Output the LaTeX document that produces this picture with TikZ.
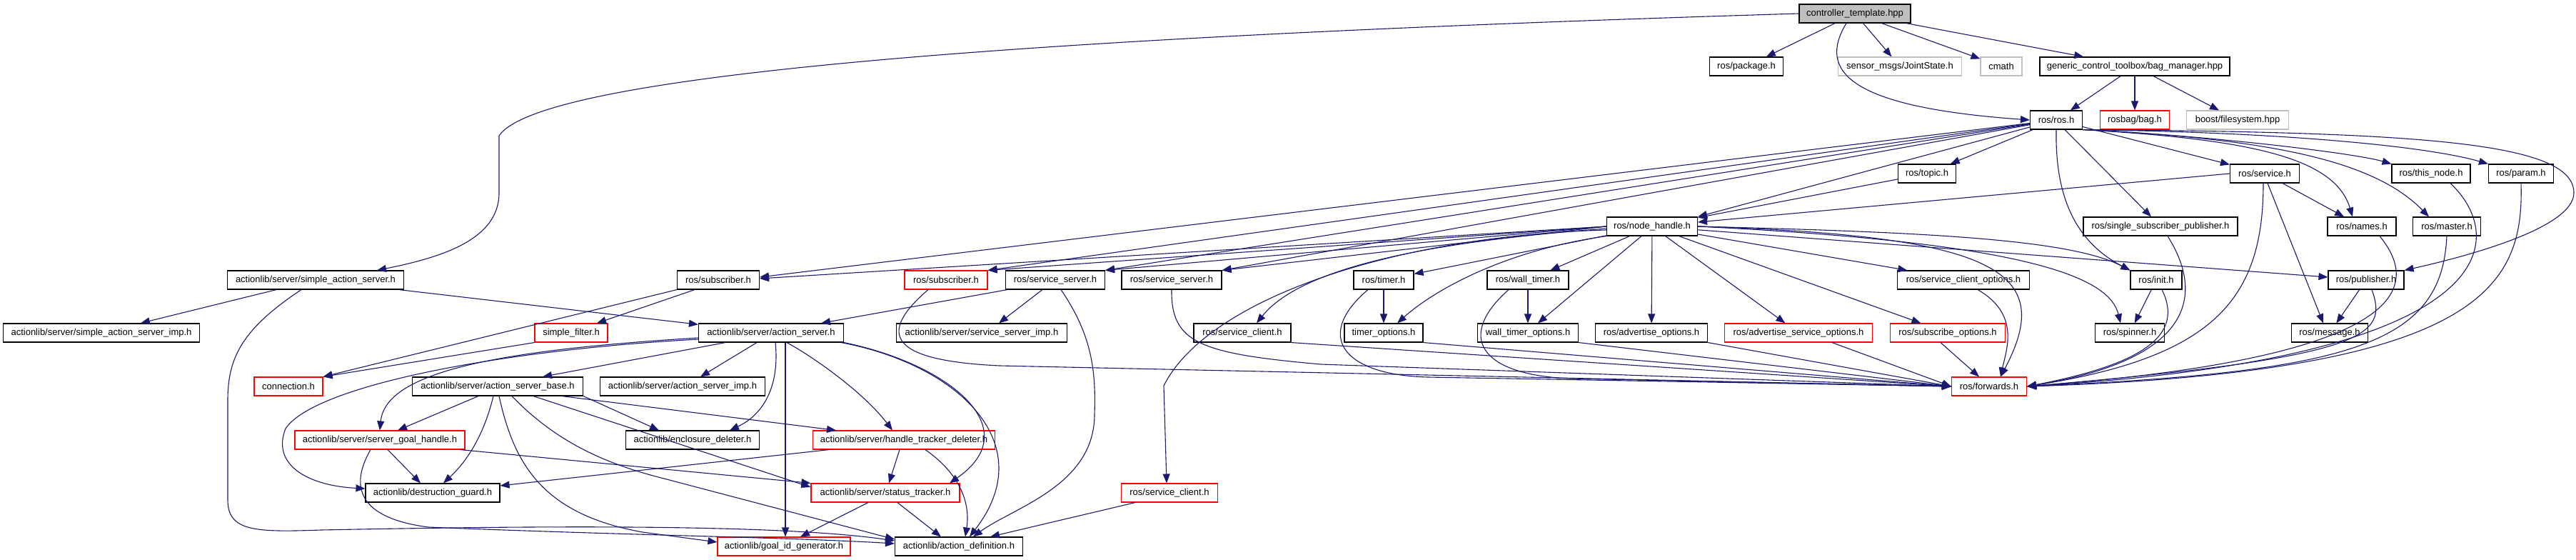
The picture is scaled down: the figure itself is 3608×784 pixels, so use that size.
\documentclass[tikz,border=0pt]{standalone}
\usepackage{fontspec}
\setmainfont{Liberation Sans}
\usetikzlibrary{arrows.meta}
\definecolor{edgec}{HTML}{191970}
\definecolor{grayb}{HTML}{BFBFBF}
\begin{document}
\begin{tikzpicture}[x=1pt,y=-1pt,
  box/.style={draw=black, line width=1.1pt, fill=white, minimum height=26pt, inner sep=0pt, font=\fontsize{13}{15}\selectfont},
  redbox/.style={box, draw=red},
  graybox/.style={box, draw=grayb},
  rootbox/.style={box, fill=grayb},
  lnk/.style={draw=edgec, line width=1.1pt, -{Triangle[length=13pt,width=10pt]}}]
\useasboundingbox (0,0) rectangle (3608,784);
% row 0
\node[rootbox, minimum width=156] (ct) at (2598,19) {controller\_template.hpp};
% row 1
\node[box, minimum width=103] (pkg) at (2446,93) {ros/package.h};
\node[graybox, minimum width=173] (js) at (2661,93) {sensor\_msgs/JointState.h};
\node[graybox, minimum width=58] (cmath) at (2803,93) {cmath};
\node[box, minimum width=266] (bag) at (2990,93) {generic\_control\_toolbox/bag\_manager.hpp};
% row 2
\node[box, minimum width=73] (ros) at (2880,168) {ros/ros.h};
\node[redbox, minimum width=97] (rbag) at (2990,168) {rosbag/bag.h};
\node[graybox, minimum width=143] (bfs) at (3134,168) {boost/filesystem.hpp};
% row 3
\node[box, minimum width=81] (topic) at (2699,243) {ros/topic.h};
\node[box, minimum width=97] (service) at (3172,243) {ros/service.h};
\node[box, minimum width=110] (thisnode) at (3405,243) {ros/this\_node.h};
\node[box, minimum width=91] (param) at (3531,243) {ros/param.h};
% row 4
\node[box, minimum width=127] (nh) at (2314,317) {ros/node\_handle.h};
\node[box, minimum width=216] (ssp) at (3026,317) {ros/single\_subscriber\_publisher.h};
\node[box, minimum width=96] (names) at (3308,317) {ros/names.h};
\node[box, minimum width=95] (master) at (3427,317) {ros/master.h};
% row 5
\node[box, minimum width=247] (sasrv) at (442,392) {actionlib/server/simple\_action\_server.h};
\node[box, minimum width=115] (sub1) at (1006,392) {ros/subscriber.h};
\node[redbox, minimum width=116] (sub2) at (1325,392) {ros/subscriber.h};
\node[box, minimum width=139] (ss1) at (1478,392) {ros/service\_server.h};
\node[box, minimum width=140] (ss2) at (1641,392) {ros/service\_server.h};
\node[box, minimum width=84] (timer) at (1938,392) {ros/timer.h};
\node[box, minimum width=114] (wtimer) at (2140,392) {ros/wall\_timer.h};
\node[box, minimum width=185] (sco) at (2750,392) {ros/service\_client\_options.h};
\node[box, minimum width=72] (init) at (3020,392) {ros/init.h};
\node[box, minimum width=106] (pub) at (3314,392) {ros/publisher.h};
% row 6
\node[box, minimum width=275] (sasimp) at (142,466) {actionlib/server/simple\_action\_server\_imp.h};
\node[redbox, minimum width=102] (sf) at (800,466) {simple\_filter.h};
\node[box, minimum width=203] (as) at (1080,466) {actionlib/server/action\_server.h};
\node[box, minimum width=239] (ssimp) at (1375,466) {actionlib/server/service\_server\_imp.h};
\node[box, minimum width=136] (sc1) at (1740,466) {ros/service\_client.h};
\node[box, minimum width=110] (tops) at (1938,466) {timer\_options.h};
\node[box, minimum width=141] (wtops) at (2140,466) {wall\_timer\_options.h};
\node[box, minimum width=157] (ao) at (2313,466) {ros/advertise\_options.h};
\node[redbox, minimum width=207] (aso) at (2519,466) {ros/advertise\_service\_options.h};
\node[redbox, minimum width=161] (so) at (2728,466) {ros/subscribe\_options.h};
\node[box, minimum width=97] (spin) at (2983,466) {ros/spinner.h};
\node[box, minimum width=107] (msg) at (3263,466) {ros/message.h};
% row 7
\node[redbox, minimum width=96] (conn) at (404,541) {connection.h};
\node[box, minimum width=239] (asb) at (697,541) {actionlib/server/action\_server\_base.h};
\node[box, minimum width=231] (asimp) at (956,541) {actionlib/server/action\_server\_imp.h};
\node[redbox, minimum width=105] (fwd) at (2786,541) {ros/forwards.h};
% row 8
\node[redbox, minimum width=238] (sgh) at (532,616) {actionlib/server/server\_goal\_handle.h};
\node[box, minimum width=187] (encl) at (970,616) {actionlib/enclosure\_deleter.h};
\node[redbox, minimum width=255] (htd) at (1266,616) {actionlib/server/handle\_tracker\_deleter.h};
% row 9
\node[box, minimum width=188] (dg) at (606,690) {actionlib/destruction\_guard.h};
\node[redbox, minimum width=208] (st) at (1240,690) {actionlib/server/status\_tracker.h};
\node[redbox, minimum width=135] (sc2) at (1638,690) {ros/service\_client.h};
% row 10
\node[redbox, minimum width=186] (gid) at (1098,765) {actionlib/goal\_id\_generator.h};
\node[box, minimum width=179] (ad) at (1343,765) {actionlib/action\_definition.h};

% ---- edges from controller_template
\draw[lnk] (ct.west) .. controls (1500,50) and (760,100) .. (699,190) -- (699,270) .. controls (699,335) and (620,360) .. ([xshift=86]sasrv.north);
\draw[lnk] (ct) -- (pkg);
\draw[lnk] (ct) -- (js);
\draw[lnk] (ct) -- (cmath);
\draw[lnk] (ct) -- (bag);
\draw[lnk] ([xshift=-12]ct.south) .. controls (2545,100) and (2590,150) .. (ros.west);
% bag manager
\draw[lnk] (bag) -- (ros);
\draw[lnk] (bag) -- (rbag);
\draw[lnk] (bag) -- (bfs);
% ros/ros.h
\draw[lnk] (ros) -- ([yshift=4]sub1.east);
\draw[lnk] (ros) -- (sub2.north east);
\draw[lnk] (ros) -- (ss1.north east);
\draw[lnk] (ros) -- (ss2.north east);
\draw[lnk] (ros) -- (nh.north east);
\draw[lnk] (ros) -- (topic);
\draw[lnk] (ros.south) .. controls (2878,280) and (2910,340) .. (init.north west);
\draw[lnk] ([xshift=12]ros.south) -- ([xshift=-13]ssp.north);
\draw[lnk] (ros) -- (service);
\draw[lnk] (ros.south east) .. controls (3150,195) and (3270,220) .. ([xshift=-13]names.north);
\draw[lnk] (ros.south east) .. controls (3200,195) and (3330,230) .. ([xshift=-25]master.north);
\draw[lnk] (ros.south east) .. controls (3100,190) and (3300,215) .. (thisnode.north west);
\draw[lnk] (ros.south east) .. controls (3200,185) and (3400,205) .. (param.north west);
\draw[lnk] (ros.south east) .. controls (3400,185) and (3605,200) .. (3605,270) .. controls (3605,320) and (3450,360) .. (pub.north east);
% topic, service
\draw[lnk] (topic) -- (nh);
\draw[lnk] (service.west) -- ([yshift=6]nh.east);
\draw[lnk] (service) -- (names);
\draw[lnk] ([xshift=4]service.south) -- ([xshift=-9]msg.north);
\draw[lnk] ([xshift=-2]service.south) .. controls (3170,420) and (3100,500) .. (fwd.east);
% node_handle
\draw[lnk] (nh.west) -- ([yshift=2]sub1.east);
\draw[lnk] (nh.west) -- (sub2.north east);
\draw[lnk] (nh.west) -- (ss1.north east);
\draw[lnk] (nh.west) -- (ss2.north east);
\draw[lnk] ([yshift=-3]nh.west) .. controls (2050,335) and (1830,365) .. ([xshift=20]sc1.north);
\draw[lnk] ([yshift=-5]nh.west) .. controls (1950,330) and (1690,420) .. (1630,540) -- ([xshift=-4]sc2.north);
\draw[lnk] (nh) -- (timer);
\draw[lnk] (nh.south west) .. controls (2110,350) and (2010,405) .. ([xshift=19]tops.north);
\draw[lnk] (nh) -- (wtimer);
\draw[lnk] ([xshift=-15]nh.south) -- ([xshift=14]wtops.north);
\draw[lnk] (nh) -- (ao);
\draw[lnk] (nh) -- (aso);
\draw[lnk] (nh) -- (so);
\draw[lnk] (nh) -- (sco);
\draw[lnk] (nh.east) .. controls (2700,325) and (2900,335) .. (init.north west);
\draw[lnk] (nh.east) .. controls (2850,340) and (2955,390) .. ([xshift=-13]spin.north);
\draw[lnk] (nh) -- (pub);
\draw[lnk] (nh.east) .. controls (2800,330) and (2880,380) .. ([xshift=16]fwd.north);
% timers
\draw[lnk] (timer) -- (tops);
\draw[lnk] (wtimer) -- (wtops);
% into forwards
\draw[lnk] ([xshift=-22]timer.south) .. controls (1840,470) and (1880,525) .. (2000,528) -- (fwd.west);
\draw[lnk] ([xshift=-27]wtimer.south) .. controls (2040,470) and (2070,525) .. (2200,530) -- (fwd.west);
\draw[lnk] (tops.south east) -- (fwd.west);
\draw[lnk] (wtops.south east) -- (fwd.west);
\draw[lnk] (ao.south east) -- (fwd.west);
\draw[lnk] ([xshift=47]aso.south) -- (fwd.west);
\draw[lnk] ([xshift=-10]so.south) -- ([xshift=-14]fwd.north);
\draw[lnk] ([xshift=20]sco.south) .. controls (2830,440) and (2810,490) .. ([xshift=16]fwd.north);
\draw[lnk] (sc1.south east) -- (fwd.west);
\draw[lnk] (ss2.south) .. controls (1640,480) and (1680,495) .. (1850,510) -- (fwd.west);
\draw[lnk] ([xshift=-25]sub2.south) .. controls (1225,470) and (1250,505) .. (1400,512) -- (fwd.west);
\draw[lnk] ([xshift=8]init.south) .. controls (3060,470) and (3000,510) .. (fwd.east);
\draw[lnk] ([xshift=10]ssp.south) .. controls (3080,400) and (3090,500) .. (fwd.east);
\draw[lnk] ([xshift=25]names.south) .. controls (3390,400) and (3380,500) .. (fwd.east);
\draw[lnk] ([xshift=8]pub.south) .. controls (3345,470) and (3320,500) .. (fwd.east);
\draw[lnk] (master.south) .. controls (3420,480) and (3300,520) .. (fwd.east);
\draw[lnk] ([xshift=27]thisnode.south) .. controls (3510,330) and (3520,500) .. (fwd.east);
\draw[lnk] (param.south) .. controls (3535,400) and (3480,520) .. (fwd.east);
\draw[lnk] (init) -- (spin);
\draw[lnk] (pub) -- (msg);
% left cluster
\draw[lnk] (sasrv) -- (sasimp);
\draw[lnk] (sasrv) -- (as);
\draw[lnk] ([xshift=-20]sasrv.south) .. controls (340,460) and (319,500) .. (319,560) -- (319,700) .. controls (319,745) and (360,745) .. (450,742) .. controls (800,735) and (1100,735) .. ([yshift=8]ad.west);
\draw[lnk] ([xshift=-33]sub1.south) -- ([xshift=36]sf.north);
\draw[lnk] (sub1.south west) -- (conn.north east);
\draw[lnk] (sf.south west) -- (conn.north east);
\draw[lnk] ([xshift=-67]ss1.south) -- ([xshift=70]as.north);
\draw[lnk] ([xshift=-18]ss1.south) -- ([xshift=24]ssimp.north);
\draw[lnk] ([xshift=8]ss1.south) .. controls (1530,470) and (1535,520) .. (1533,580) .. controls (1533,680) and (1420,710) .. ([xshift=20]ad.north);
% action_server
\draw[lnk] ([xshift=-64]as.south) -- ([xshift=63]asb.north);
\draw[lnk] ([xshift=-20]as.south) -- ([xshift=25]asimp.north);
\draw[lnk] ([yshift=-7]as.west) .. controls (700,490) and (540,520) .. (sgh.north);
\draw[lnk] ([yshift=-9]as.west) .. controls (700,490) and (440,540) .. (400,600) .. controls (380,650) and (430,680) .. ([yshift=6]dg.west);
\draw[lnk] ([xshift=6]as.south) .. controls (1092,540) and (1070,580) .. ([xshift=52]encl.north);
\draw[lnk] ([xshift=20]as.south) -- ([xshift=2]gid.north);
\draw[lnk] ([xshift=22]as.south) .. controls (1140,500) and (1210,550) .. ([xshift=-16]htd.north);
\draw[lnk] (as.south east) .. controls (1330,510) and (1440,600) .. ([xshift=90]st.north);
\draw[lnk] ([xshift=-4]as.south east) .. controls (1340,510) and (1460,620) .. ([xshift=15]ad.north);
% action_server_base
\draw[lnk] ([xshift=-27]asb.south) -- ([xshift=25]sgh.north);
\draw[lnk] ([xshift=-6]asb.south) .. controls (680,600) and (660,640) .. ([xshift=15]dg.north);
\draw[lnk] ([xshift=2]asb.south) .. controls (720,650) and (760,720) .. (900,745) -- ([yshift=6]gid.west);
\draw[lnk] ([xshift=20]asb.south) .. controls (780,620) and (850,650) .. (930,670) -- ([yshift=10]ad.west);
\draw[lnk] ([xshift=50]asb.south) -- ([yshift=8]st.west);
\draw[lnk] ([xshift=90]asb.south) -- ([xshift=-95]htd.north);
\draw[lnk] (asb.south east) -- ([xshift=-47]encl.north);
% server_goal_handle, handle_tracker_deleter, status_tracker
\draw[lnk] ([xshift=11]sgh.south) -- ([xshift=-17]dg.north);
\draw[lnk] ([xshift=-7]sgh.south east) -- (st.north west);
\draw[lnk] ([xshift=-13]sgh.south) .. controls (490,680) and (500,725) .. (600,738) .. controls (900,750) and (1100,752) .. ([yshift=4]ad.west);
\draw[lnk] ([xshift=-105]htd.south) -- ([yshift=10]dg.east);
\draw[lnk] ([xshift=-6]htd.south) -- ([xshift=5]st.north);
\draw[lnk] ([xshift=30]htd.south) .. controls (1340,660) and (1360,700) .. ([xshift=9]ad.north);
\draw[lnk] ([xshift=-24]st.south) -- ([xshift=23]gid.north);
\draw[lnk] ([xshift=17]st.south) -- ([xshift=-25]ad.north);
\draw[lnk] ([xshift=-48]sc2.south) -- ([xshift=44]ad.north);
\end{tikzpicture}
\end{document}
